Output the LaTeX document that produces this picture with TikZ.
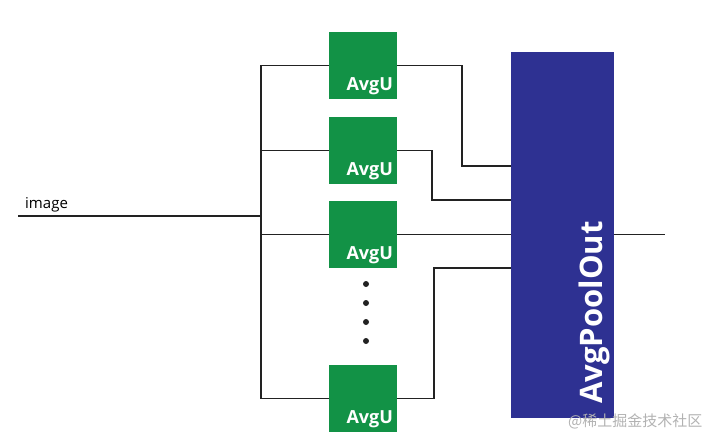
\documentclass[tikz,border=0pt]{standalone}
\usepackage{fontspec}
\setmainfont{Open Sans}
\newfontfamily\cjkfont{Noto Sans CJK SC}
\definecolor{unitgreen}{RGB}{18,146,70}
\definecolor{poolblue}{RGB}{46,49,146}
\definecolor{wiregray}{RGB}{34,34,34}
\usetikzlibrary{positioning}

\begin{document}
\begin{tikzpicture}[x=1pt, y=-1pt]
%% the picture is laid out in pixels of the drawing, y grows downwards
%% each AvgU unit is a green box with its label in the lower right corner
\tikzstyle{wire}=[draw=wiregray, line width=1.5pt]
\tikzstyle{unitbox}=[fill=unitgreen, minimum width=68pt, minimum height=67pt, inner sep=0pt]
\tikzstyle{unitlabel}=[anchor=south east, text=white, font=\fontsize{18}{18}\selectfont\bfseries, inner sep=4pt]
\tikzstyle{poolbox}=[fill=poolblue, minimum width=103pt, minimum height=366pt, inner sep=0pt]
\tikzstyle{dot}=[circle, fill=wiregray, minimum size=6pt, inner sep=0pt]
\useasboundingbox (0,0) rectangle (717,444);
%% AvgU units %%
\node[unitbox] at (363,65.5) (U1) {};
\draw (U1.south east) node[unitlabel] {AvgU};
\node[unitbox] at (363,150.5) (U2) {};
\draw (U2.south east) node[unitlabel] {AvgU};
\node[unitbox] at (363,234.5) (U3) {};
\draw (U3.south east) node[unitlabel] {AvgU};
\node[unitbox] at (363,398.5) (U4) {};
\draw (U4.south east) node[unitlabel] {AvgU};
%% dots between the units
\foreach \y [count=\i] in {284,303,322,341}
  \node[dot] at (366,\y) (D\i) {};
%% pooling output block
\node[poolbox] at (562.5,235) (Pool) {};
\node[rotate=90, anchor=base west, inner sep=0pt, text=white,
  font=\fontsize{31}{31}\selectfont\bfseries] at (602,404) (PoolText) {AvgPoolOut};
%% input and bus
\coordinate (In) at (18,216);
\coordinate (BusTop) at (261,65.5);
\coordinate (BusBot) at (261,398.5);
\node[anchor=base west, inner sep=0pt, font=\fontsize{15}{15}\selectfont] at (25,208) (InLabel) {image};
\draw[wire] (In) -- (In -| BusTop);
\draw[wire] (BusTop) -- (BusBot);
\draw[wire] (BusTop) -- (U1.west);
\draw[wire] (U2.west -| BusTop) -- (U2.west);
\draw[wire] (U3.west -| BusTop) -- (U3.west);
\draw[wire] (BusBot) -- (U4.west);
%% unit outputs into AvgPoolOut
\coordinate (J1) at (462,166);
\coordinate (J2) at (432,200);
\coordinate (J4) at (434,268);
\draw[wire] (U1.east) -| (J1) -- (J1 -| Pool.west);
\draw[wire] (U2.east) -| (J2) -- (J2 -| Pool.west);
\draw[wire] (U3.east) -- (U3.east -| Pool.west);
\draw[wire] (U4.east) -| (J4) -- (J4 -| Pool.west);
%% output
\coordinate (Out) at (665,234.5);
\draw[wire] (Out -| Pool.east) -- (Out);
%% watermark
\node[anchor=west, inner sep=0pt, text=black!30, font=\cjkfont\fontsize{15}{15}\selectfont] at (568,421) (Mark) {@稀土掘金技术社区};
\end{tikzpicture}
\end{document}
